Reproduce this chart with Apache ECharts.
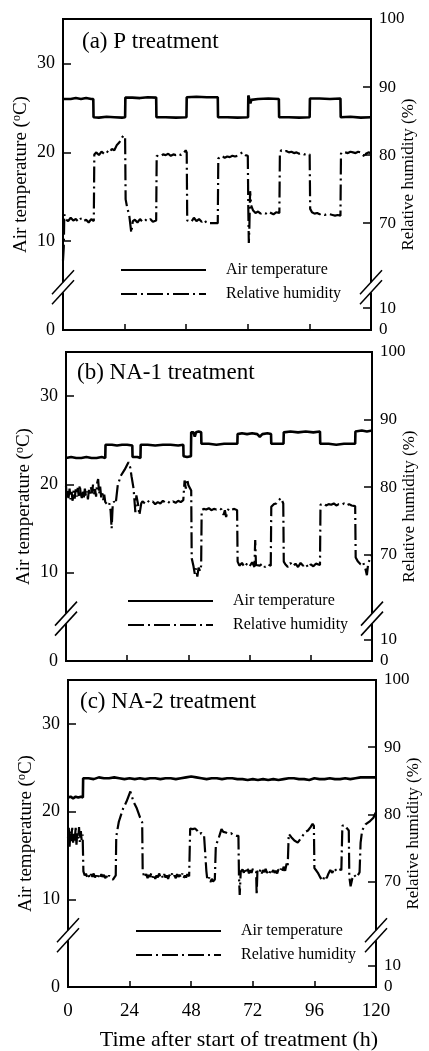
<!DOCTYPE html>
<html>
<head>
<meta charset="utf-8">
<script src="https://cdn.jsdelivr.net/npm/echarts@6/dist/echarts.min.js"></script>
<style>
html,body{margin:0;padding:0;background:#fff;}
#chart{width:429px;height:1051px;}
</style>
</head>
<body>
<div id="chart"></div>
<script>
// ---------- DATA ----------
const panelTitles = ['(a) P treatment', '(b) NA-1 treatment', '(c) NA-2 treatment'];
const seriesNames = ['Air temperature', 'Relative humidity'];
const xTicks = [0, 24, 48, 72, 96, 120];
const tempTickLabels = [0, 10, 20, 30];
const rhTickValues = [54.3, 57.5, 70, 80, 90, 100];
const rhTickLabels = ['0', '10', '70', '80', '90', '100'];

// Panel (a) P treatment: [hour, °C]
const tempA = [[0,26.0],[1,26.0],[3,26.0],[5,26.1],[7,26.0],[9,26.1],[11,26.0],[11.8,26.0],[11.9,23.95],[14,23.9],[17,24.0],[20,23.95],[23,23.9],[24.2,23.95],[24.3,26.15],[27,26.15],[30,26.1],[33,26.2],[36.3,26.15],[36.4,23.95],[40,23.95],[44,23.9],[48.1,23.95],[48.2,26.2],[52,26.25],[56,26.2],[60.3,26.2],[60.4,23.95],[64,23.95],[68,23.9],[72.1,23.95],[72.2,26.4],[72.7,26.3],[73.0,25.5],[73.4,25.9],[76,26.0],[80,26.05],[84.1,26.0],[84.2,23.95],[88,23.95],[92,23.9],[96.1,23.95],[96.2,26.05],[100,26.05],[104,26.0],[108.1,26.05],[108.2,23.95],[112,24.0],[116,23.9],[120,23.95]];
// Panel (a): [hour, %]
const rhA = [[0,64.5],[0.3,66.5],[0.5,71.3],[1,70.6],[2,70.3],[3,70.8],[4,70.4],[5,70.6],[6,70.2],[7,70.7],[8,70.3],[9,70.5],[10,70.1],[11,70.6],[12,70.3],[12.2,80.1],[13,80.4],[14,80.0],[15,80.5],[16,80.2],[17,80.6],[18,80.3],[19,80.9],[20,80.7],[21,81.5],[22,81.9],[23,82.6],[23.7,82.9],[24.2,82.5],[24.4,73.5],[25,72.3],[25.8,71.2],[26.6,68.6],[27.2,70.3],[28,70.5],[29,70.1],[30,70.6],[31,70.2],[32,70.5],[33,70.3],[34,70.6],[35,70.2],[36.3,70.4],[36.5,79.9],[37,80.1],[38,79.8],[39,80.1],[40,80.0],[41,80.2],[42,79.9],[43,80.1],[44,80.0],[45,80.2],[46,80.0],[47,80.3],[47.8,80.7],[48.2,80.4],[48.4,70.4],[49,70.6],[50,70.2],[51,70.8],[52,70.3],[53,70.6],[54,70.2],[55,70.5],[56,70.0],[57,70.0],[58,70.0],[59,70.0],[60.3,70.0],[60.5,79.5],[61,79.7],[62,79.9],[63,79.6],[64,79.8],[65,79.7],[66,79.9],[67,79.8],[68,79.9],[69,80.2],[70,80.4],[71,80.0],[72,79.9],[72.2,72.0],[72.4,67.1],[72.6,69.2],[72.9,74.7],[73.3,72.6],[74,71.9],[75,71.5],[76,71.7],[77,71.4],[78,71.6],[79,71.4],[80,71.7],[81,71.5],[82,71.3],[83,71.6],[84.3,71.5],[84.5,80.3],[85,80.7],[86,80.5],[87,80.6],[88,80.4],[89,80.5],[90,80.3],[91,80.4],[92,80.2],[93,80.3],[94,80.1],[95,80.2],[96.1,80.1],[96.3,72.1],[97,71.6],[98,71.4],[99,71.5],[100,71.3],[101,71.4],[102,71.2],[103,71.4],[104,71.3],[105,71.2],[106,71.1],[107,71.2],[108.1,71.1],[108.3,80.2],[109,80.5],[110,80.4],[111,80.3],[112,80.5],[113,80.4],[114,80.3],[115,80.5],[116,80.4],[117,80.0],[117.6,79.6],[118,80.2],[119,80.4],[120,80.3]];

// Panel (b) NA-1 treatment
const tempB = [[0,23.0],[2,23.1],[4,23.0],[6,23.0],[8,23.1],[10,23.0],[12,23.0],[14,23.1],[15.4,23.0],[15.5,24.5],[18,24.5],[20,24.4],[22,24.5],[24,24.5],[26.0,24.4],[26.1,23.1],[28,23.1],[29.2,23.0],[29.3,24.5],[32,24.5],[35,24.4],[38,24.5],[41,24.5],[44,24.4],[46.0,24.5],[46.1,23.2],[47.5,23.1],[49.0,23.2],[49.1,25.9],[50,25.9],[50.5,25.4],[51,25.9],[52,26.0],[53.0,25.9],[53.1,24.6],[56,24.6],[59,24.5],[62,24.6],[65,24.6],[67.2,24.6],[67.3,25.7],[69,25.8],[71,25.7],[73,25.8],[75,25.7],[76,25.4],[77,25.7],[79,25.8],[80.4,25.7],[80.5,24.6],[83,24.6],[85.3,24.6],[85.4,25.9],[88,26.0],[91,25.9],[94,26.0],[97,25.9],[99.6,26.0],[99.7,24.6],[103,24.6],[106,24.5],[109,24.6],[113.4,24.6],[113.5,26.0],[116,26.1],[118,26.0],[120,26.1]];
const rhB = [[0,80.2],[0.3,78.5],[0.6,79.6],[1,78.4],[1.4,79.8],[1.8,78.2],[2.2,79.3],[2.6,78.0],[3,79.5],[3.4,78.3],[3.8,79.7],[4.2,78.6],[4.6,79.9],[5,78.7],[5.4,80.3],[5.8,79.0],[6.2,78.4],[6.6,79.6],[7,78.5],[7.4,79.8],[7.8,78.7],[8.2,79.4],[8.6,78.2],[9,79.6],[9.4,78.8],[9.8,80.0],[10.2,79.1],[10.6,80.4],[11,78.9],[11.4,79.7],[11.8,78.6],[12.2,80.6],[12.6,81.2],[13,79.0],[13.4,80.1],[13.8,78.5],[14.2,79.4],[14.6,78.1],[15,78.9],[15.4,77.8],[16,78.0],[16.5,77.3],[17,77.6],[17.5,76.5],[17.9,73.9],[18.3,77.2],[18.8,77.9],[19.5,77.6],[20.3,80.3],[21.5,81.7],[23,82.6],[24.5,83.7],[25.2,82.9],[25.7,81.6],[26.5,79.8],[27.2,76.3],[27.6,78.8],[28.2,77.6],[28.8,75.9],[29.5,77.6],[30,77.9],[31,77.6],[32,78.0],[33,77.7],[34,77.9],[35,77.5],[36,77.8],[37,77.6],[38,78.0],[39,77.7],[40,77.9],[41,77.6],[42,77.9],[43,77.7],[44,78.0],[45,77.8],[46,78.1],[46.5,81.0],[47,79.8],[47.5,81.2],[48,80.3],[48.6,80.5],[49.1,79.5],[49.3,69.5],[50,68.3],[50.5,67.2],[51,68.0],[51.5,66.8],[52,68.1],[52.6,67.6],[53.0,68.4],[53.2,76.6],[54,76.8],[55,76.7],[56,76.9],[57,76.6],[58,76.8],[59,76.7],[60,76.9],[61,76.7],[61.8,75.9],[62.3,76.6],[62.8,75.6],[63.3,76.5],[64,76.9],[65,76.7],[66,76.8],[67.1,76.6],[67.3,69.0],[68,68.4],[69,68.8],[70,68.2],[71,68.7],[72,68.3],[73,68.9],[73.9,68.2],[74.2,72.2],[74.5,68.5],[75,68.6],[76,68.4],[77,68.7],[78,68.2],[79,68.6],[80.3,68.4],[80.5,77.1],[81.5,77.5],[82.5,77.6],[83.5,78.1],[84.3,78.4],[85.2,77.6],[85.4,69.0],[86,68.6],[87,68.2],[88,68.8],[89,68.3],[90,68.7],[91,68.2],[92,68.8],[93,68.4],[94,68.7],[95,68.1],[96,68.6],[97,68.3],[98,68.7],[99.6,68.5],[99.8,77.4],[101,77.6],[102,77.3],[103,77.5],[104,77.4],[105,77.6],[106,77.3],[107,77.5],[108,77.4],[109,77.6],[110,77.3],[111,77.5],[112,77.3],[113.4,77.2],[113.6,69.6],[114.5,69.0],[115.5,68.6],[116.5,68.9],[117.5,67.8],[118,67.0],[118.5,68.7],[119.3,69.5],[120,70.0]];

// Panel (c) NA-2 treatment
const tempC = [[0,21.6],[1,21.7],[2,21.5],[3,21.7],[4,21.6],[5,21.7],[5.8,21.6],[5.9,23.8],[8,23.8],[10,23.7],[12,23.9],[14,23.8],[16,23.8],[18,23.9],[20,23.8],[22,23.7],[24,23.8],[26,23.7],[28,23.8],[30,23.7],[32,23.8],[34,23.8],[36,23.7],[38,23.8],[40,23.8],[42,23.7],[44,23.8],[46,23.9],[48,24.0],[50,23.9],[52,23.8],[54,23.7],[56,23.8],[58,23.8],[60,23.7],[62,23.8],[64,23.8],[66,23.7],[68,23.7],[70,23.6],[72,23.7],[74,23.6],[76,23.7],[78,23.6],[80,23.7],[82,23.6],[84,23.7],[86,23.8],[88,23.8],[90,23.7],[92,23.7],[94,23.6],[96,23.8],[98,23.7],[100,23.7],[102,23.8],[104,23.7],[106,23.7],[108,23.8],[110,23.7],[112,23.8],[114,23.9],[116,23.9],[118,23.9],[120,23.9]];
const rhC = [[0,76.5],[0.3,78.0],[0.6,75.2],[1,77.6],[1.3,76.0],[1.6,78.2],[2,75.8],[2.3,77.3],[2.6,76.1],[3,78.0],[3.3,75.5],[3.6,77.2],[4,76.4],[4.3,78.1],[4.6,75.9],[5,77.5],[5.3,76.2],[5.7,77.0],[6.0,71.5],[6.5,70.9],[7,71.2],[7.5,70.6],[8,71.0],[8.5,70.5],[9,71.1],[9.5,70.7],[10,71.2],[10.5,70.6],[11,70.9],[11.5,70.4],[12,71.0],[12.5,70.6],[13,71.1],[13.5,70.7],[14,71.0],[14.5,70.5],[15,70.8],[15.5,70.4],[16,70.9],[16.5,70.6],[17,70.8],[17.5,70.3],[18.2,70.1],[18.6,70.9],[18.8,76.7],[19.8,78.9],[21.5,80.9],[22.8,81.9],[24.3,83.4],[25.5,81.9],[26.8,80.9],[28.1,79.5],[28.9,78.8],[29.1,71.5],[29.8,70.6],[30.5,71.1],[31,70.5],[31.5,71.0],[32,70.7],[32.5,71.3],[33,70.6],[33.5,71.0],[34,70.4],[34.5,70.9],[35,70.6],[35.5,71.2],[36,70.7],[36.5,71.0],[37,70.5],[37.5,71.1],[38,70.6],[38.5,70.9],[39,70.4],[39.5,71.0],[40,70.7],[40.5,71.2],[41,70.6],[41.5,70.9],[42,70.5],[42.5,71.1],[43,70.7],[43.5,71.0],[44,70.6],[44.5,71.2],[45,70.5],[45.5,70.9],[46,70.6],[46.5,71.1],[47.2,70.8],[47.6,77.9],[48.5,77.8],[49.5,77.9],[50.3,77.6],[51,77.1],[52,77.2],[53,76.9],[53.7,76.9],[53.9,71.6],[54.3,70.2],[55,70.6],[55.5,69.9],[56,70.4],[56.5,70.0],[57.2,70.3],[57.6,75.4],[58.5,76.2],[59.8,77.8],[60.5,77.4],[61.5,77.3],[62.5,77.1],[63.5,77.2],[64.5,76.9],[65.5,76.8],[66.4,76.8],[66.6,71.0],[66.9,68.0],[67.3,71.5],[68,71.8],[68.5,71.3],[69,72.0],[69.5,71.4],[70,71.9],[70.5,71.2],[71,71.7],[71.5,71.3],[72,71.9],[72.5,71.5],[73.3,71.4],[73.5,68.0],[73.8,71.6],[74.5,71.3],[75,71.8],[75.5,71.2],[76,71.7],[76.5,71.4],[77,71.9],[77.5,71.3],[78,71.6],[78.5,71.2],[79,71.8],[79.5,71.4],[80,71.7],[80.5,71.3],[81,71.6],[81.5,71.2],[82,71.8],[82.5,71.5],[83,71.9],[83.5,71.4],[84,72.2],[84.6,71.6],[85.2,72.7],[85.6,72.3],[86,77.1],[87,76.6],[88.2,76.1],[89.5,75.8],[90.5,76.3],[91.4,76.8],[92.5,77.4],[93.5,77.6],[94.5,78.1],[95.3,78.6],[95.8,78.3],[96,72.0],[96.8,71.6],[97.5,71.2],[98.3,70.6],[99.3,70.1],[100,70.9],[100.8,70.5],[101.5,71.2],[102.2,71.7],[103,71.3],[103.8,72.0],[104.5,71.6],[105.3,71.9],[106.5,71.7],[106.9,78.3],[107.8,78.4],[108.5,78.0],[109.4,77.6],[109.6,70.7],[110.1,69.3],[110.8,70.5],[111.5,71.0],[112.3,70.6],[113.2,71.1],[113.6,71.4],[114,75.8],[114.6,77.6],[115.9,78.5],[117.7,79.0],[119,79.5],[120,80.4]];

const temps = [tempA, tempB, tempC];
const rhs = [rhA, rhB, rhC];
const breakAt = [4.8, 4.8, 5.9]; // axis-break position on temperature scale

// ---------- LAYOUT / STYLE ----------
const FONT = "'Liberation Serif','Times New Roman',serif";
const grids = [
  {left: 63, top: 19, width: 308, height: 311},
  {left: 66, top: 352, width: 306, height: 309},
  {left: 68, top: 680, width: 308, height: 307}
];
const titlePos = [{left: 82, top: 30}, {left: 77, top: 361}, {left: 80, top: 690}];
const legendPos = [{left: 120, top: 262}, {left: 127, top: 593}, {left: 135, top: 923}];

const axisLine = {show: true, lineStyle: {color: '#000', width: 2}};
const option = {
  animation: false,
  backgroundColor: '#fff',
  title: panelTitles.map((t, i) => ({
    text: t, left: titlePos[i].left, top: titlePos[i].top, padding: 0,
    textStyle: {fontFamily: FONT, fontSize: 23, fontWeight: 'normal', color: '#000'}
  })),
  legend: legendPos.map(p => ({
    data: seriesNames, left: p.left, top: p.top, orient: 'vertical',
    itemWidth: 85, itemHeight: 14, itemGap: 8, padding: 0, selectedMode: false,
    itemStyle: {opacity: 0},
    textStyle: {fontFamily: FONT, fontSize: 16, color: '#000', padding: [0, 0, 0, 15]}
  })),
  grid: grids.map(g => Object.assign({show: true, borderColor: '#000', borderWidth: 2,
    backgroundColor: 'transparent', containLabel: false, outerBoundsMode: 'none'}, g)),
  xAxis: grids.map((g, i) => ({
    type: 'value', gridIndex: i, min: 0, max: 120, interval: 24,
    axisLine: axisLine,
    axisTick: {show: true, inside: true, length: 6, lineStyle: {color: '#000', width: 1.5}},
    axisLabel: {show: i === 2, fontFamily: FONT, fontSize: 19, color: '#000', margin: 15},
    splitLine: {show: false},
    name: i === 2 ? 'Time after start of treatment (h)' : '',
    nameLocation: 'middle', nameGap: 42, nameMoveOverlap: false,
    nameTextStyle: {fontFamily: FONT, fontSize: 22, color: '#000', padding: [0, 0, 0, 34]}
  })),
  yAxis: [],
  series: []
};
for (let i = 0; i < 3; i++) {
  option.yAxis.push({
    type: 'value', gridIndex: i, position: 'left', min: 0, max: 35,
    axisLine: axisLine,
    axisTick: {show: true, inside: true, length: 8, lineStyle: {color: '#000', width: 1.5}, customValues: [10, 20, 30]},
    axisLabel: {fontFamily: FONT, fontSize: 18, color: '#000', margin: 8, customValues: tempTickLabels},
    splitLine: {show: false},
    name: 'Air temperature ({sup|o}C)', nameLocation: 'middle', nameRotate: 90, nameGap: 32, nameMoveOverlap: false,
    nameTextStyle: {fontFamily: FONT, fontSize: 19, color: '#000',
      rich: {sup: {fontFamily: FONT, fontSize: 12, color: '#000', verticalAlign: 'top', padding: [0, 0, 8, 0]}}}
  });
  option.yAxis.push({
    type: 'value', gridIndex: i, position: 'right', min: 54.3, max: 100,
    axisLine: axisLine,
    axisTick: {show: true, inside: true, length: 8, lineStyle: {color: '#000', width: 1.5}, customValues: rhTickValues.slice(1)},
    axisLabel: {fontFamily: FONT, fontSize: 17, color: '#000', margin: 8, customValues: rhTickValues,
      formatter: v => {
        let best = 0;
        rhTickValues.forEach((t, k) => { if (Math.abs(t - v) < Math.abs(rhTickValues[best] - v)) best = k; });
        return rhTickLabels[best];
      }},
    splitLine: {show: false},
    name: 'Relative humidity (%)', nameLocation: 'middle', nameRotate: 90, nameGap: 29, nameMoveOverlap: false,
    nameTextStyle: {fontFamily: FONT, fontSize: 17, color: '#000'}
  });
  option.series.push({
    type: 'line', name: seriesNames[0], xAxisIndex: i, yAxisIndex: 2 * i, data: temps[i],
    symbol: 'none', itemStyle: {color: '#000'}, lineStyle: {color: '#000', width: 2.6}, z: 3
  });
  option.series.push({
    type: 'line', name: seriesNames[1], xAxisIndex: i, yAxisIndex: 2 * i + 1, data: rhs[i],
    symbol: 'none', itemStyle: {color: '#000'}, lineStyle: {color: '#000', width: 2.2, type: [16, 4, 2, 4]}, z: 3
  });
}

const chart = echarts.init(document.getElementById('chart'), null, {renderer: 'canvas'});
chart.setOption(option);

// axis-break marks on left and right axes
const graphics = [];
for (let i = 0; i < 3; i++) {
  [0, 120].forEach(xv => {
    const p = chart.convertToPixel({xAxisIndex: i, yAxisIndex: 2 * i}, [xv, breakAt[i]]);
    graphics.push({type: 'rect', z: 100, shape: {x: p[0] - 3, y: p[1] - 5, width: 6, height: 10}, style: {fill: '#fff'}});
    [-5, 5].forEach(d => {
      graphics.push({type: 'line', z: 101, shape: {x1: p[0] - 11, y1: p[1] + d + 12, x2: p[0] + 11, y2: p[1] + d - 12},
        style: {stroke: '#000', lineWidth: 1.5}});
    });
  });
}
chart.setOption({graphic: graphics});
</script>
</body>
</html>
